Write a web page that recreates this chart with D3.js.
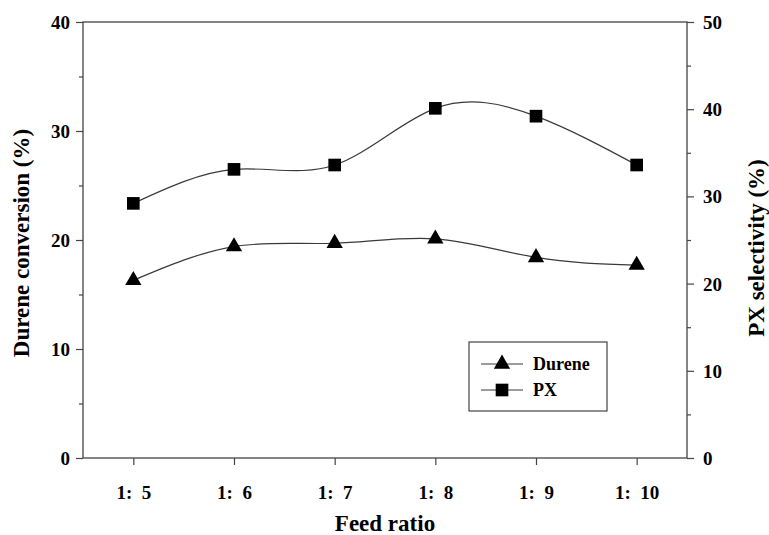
<!DOCTYPE html>
<html>
<head>
<meta charset="utf-8">
<script src="https://cdn.jsdelivr.net/npm/d3@7/dist/d3.min.js"></script>
<style>
  html, body { margin: 0; padding: 0; background: #fff; }
  svg { display: block; }
</style>
</head>
<body>
<svg id="chart" width="769" height="535"></svg>
<script>
// ---- data ----
const ratios = [5, 6, 7, 8, 9, 10];
const tickLabels = ["1:  5", "1:  6", "1:  7", "1:  8", "1:  9", "1:  10"];
const dureneConversion = [16.3, 19.4, 19.7, 20.1, 18.4, 17.7];   // left axis (%)
const pxSelectivity = [29.2, 33.1, 33.6, 40.1, 39.2, 33.6];     // right axis (%)
const seriesNames = ["Durene", "PX"];

// ---- layout ----
const FONT = "'Liberation Serif', 'Times New Roman', 'DejaVu Serif', serif";
const svg = d3.select("#chart");
const L = 83, R = 687, T = 22, B = 458;

const x = d3.scaleLinear().domain([4.5, 10.5]).range([L, R]);
const yL = d3.scaleLinear().domain([0, 40]).range([B, T]);
const yR = d3.scaleLinear().domain([0, 50]).range([B, T]);

const axisColor = "#444";
function txt(sel, size) {
  return sel.attr("font-family", FONT).attr("font-weight", "bold").attr("fill", "#000")
    .style("font-family", FONT).style("font-weight", "bold").style("font-size", size + "px");
}

// frame
svg.append("rect").attr("x", L).attr("y", T).attr("width", R - L).attr("height", B - T)
  .attr("fill", "none").attr("stroke", axisColor).attr("stroke-width", 1.3);

// left axis
const gL = svg.append("g").attr("transform", `translate(${L},0)`);
gL.call(d3.axisLeft(yL).tickValues(d3.range(0, 41, 5)).tickSize(0).tickFormat(""));
gL.selectAll("path").remove();
gL.selectAll(".tick line").remove();
gL.selectAll(".tick").each(function(d) {
  const major = d % 10 === 0;
  d3.select(this).append("line").attr("x1", 0).attr("x2", major ? -7 : -4)
    .attr("stroke", axisColor).attr("stroke-width", 1.2);
  if (major) {
    txt(d3.select(this).append("text"), 19).attr("x", -13).attr("dy", "0.34em")
      .attr("text-anchor", "end").text(d);
  }
});

// right axis
const gR = svg.append("g").attr("transform", `translate(${R},0)`);
gR.call(d3.axisRight(yR).tickValues(d3.range(0, 51, 5)).tickSize(0).tickFormat(""));
gR.selectAll("path").remove();
gR.selectAll(".tick line").remove();
gR.selectAll(".tick").each(function(d) {
  const major = d % 10 === 0;
  d3.select(this).append("line").attr("x1", 0).attr("x2", major ? 7 : 4)
    .attr("stroke", axisColor).attr("stroke-width", 1.2);
  if (major) {
    txt(d3.select(this).append("text"), 19).attr("x", 16).attr("dy", "0.34em")
      .attr("text-anchor", "start").text(d);
  }
});

// bottom axis
const gB = svg.append("g").attr("transform", `translate(0,${B})`);
gB.call(d3.axisBottom(x).tickValues(ratios).tickSize(0).tickFormat(""));
gB.selectAll("path").remove();
gB.selectAll(".tick line").remove();
gB.selectAll(".tick").each(function(d, i) {
  d3.select(this).append("line").attr("y1", 0).attr("y2", 7)
    .attr("stroke", axisColor).attr("stroke-width", 1.2);
  txt(d3.select(this).append("text"), 19).attr("y", 41).attr("text-anchor", "middle")
    .attr("xml:space", "preserve").style("white-space", "pre")
    .text(tickLabels[i]);
});

// axis titles
txt(svg.append("text"), 23).attr("x", (L + R) / 2).attr("y", 531).attr("text-anchor", "middle")
  .text("Feed ratio");
txt(svg.append("text"), 23).attr("transform", `translate(29,${(T + B) / 2 + 3}) rotate(-90)`)
  .attr("text-anchor", "middle").text("Durene conversion (%)");
txt(svg.append("text"), 23).attr("transform", `translate(764,${(T + B) / 2 + 8}) rotate(-90)`)
  .attr("text-anchor", "middle").text("PX selectivity (%)");

// lines
const lineL = d3.line().x((d, i) => x(ratios[i])).y(d => yL(d)).curve(d3.curveNatural);
const lineR = d3.line().x((d, i) => x(ratios[i])).y(d => yR(d)).curve(d3.curveNatural);
const lineColor = "#3a3a3a";
svg.append("path").attr("d", lineL(dureneConversion)).attr("fill", "none")
  .attr("stroke", lineColor).attr("stroke-width", 1.2);
svg.append("path").attr("d", lineR(pxSelectivity)).attr("fill", "none")
  .attr("stroke", lineColor).attr("stroke-width", 1.2);

const tri = d3.symbol().type(d3.symbolTriangle).size(115);
const sq = d3.symbol().type(d3.symbolSquare).size(160);

svg.append("g").selectAll("path").data(dureneConversion).join("path")
  .attr("transform", (d, i) => `translate(${x(ratios[i])},${yL(d)})`)
  .attr("d", tri).attr("fill", "#000");
svg.append("g").selectAll("path").data(pxSelectivity).join("path")
  .attr("transform", (d, i) => `translate(${x(ratios[i])},${yR(d)})`)
  .attr("d", sq).attr("fill", "#000");

// legend
const lg = svg.append("g");
lg.append("rect").attr("x", 469).attr("y", 342).attr("width", 138).attr("height", 69)
  .attr("fill", "#fff").attr("stroke", axisColor).attr("stroke-width", 1.2);
const items = [{name: seriesNames[0], sym: tri, y: 364}, {name: seriesNames[1], sym: sq, y: 390}];
items.forEach(it => {
  lg.append("line").attr("x1", 481).attr("x2", 523).attr("y1", it.y).attr("y2", it.y)
    .attr("stroke", lineColor).attr("stroke-width", 1.2);
  lg.append("path").attr("transform", `translate(502,${it.y})`).attr("d", it.sym).attr("fill", "#000");
  txt(lg.append("text"), 18).attr("x", 533).attr("y", it.y).attr("dy", "0.34em")
    .text(it.name);
});
</script>
</body>
</html>
